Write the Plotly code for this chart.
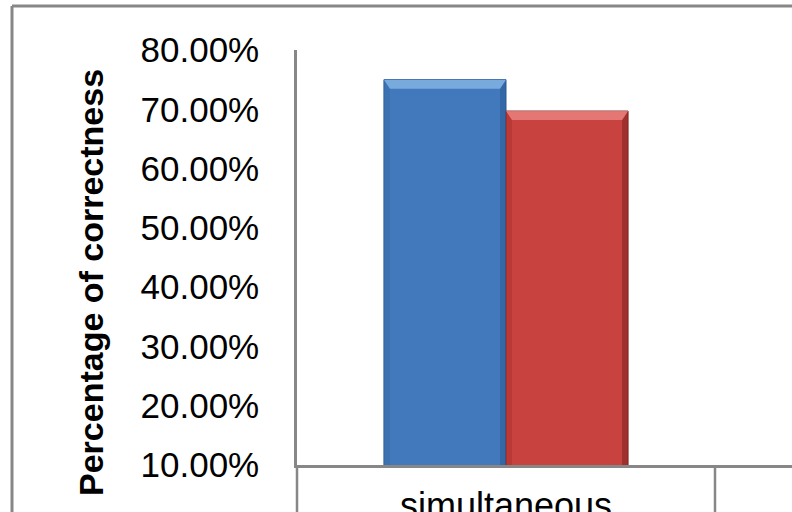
import plotly.graph_objects as go

# Data
categories = ["simultaneous"]
series_names = ["Series 1", "Series 2"]
series_values = [[0.75], [0.697]]
series_colors = ["#4279BD", "#C8423F"]
edge_dark = ["#2A5A94", "#7E2220"]
edge_mid = ["#3569A8", "#A8302E"]
top_light = ["#86B6E6", "#EB8482"]
y_ticks = [0.1, 0.2, 0.3, 0.4, 0.5, 0.6, 0.7, 0.8]

W, H = 792, 512
# plot area edges in page pixels
PL, PR, PT, PB = 297, 792, 50, 465
plot_w = PR - PL
plot_h = PB - PT
cat_px = 418  # pixel width of one category slot
x_range = [-0.5, -0.5 + plot_w / cat_px]
y_range = [0.1, 0.8]


def px_x(p):
    return p / W


def px_y(p):
    return 1 - p / H


bargap = 0.416
bar_w = (1 - bargap) / len(series_values)

fig = go.Figure()
for name, vals, col, dark in zip(series_names, series_values, series_colors, edge_dark):
    fig.add_trace(go.Bar(
        x=categories, y=vals, name=name,
        marker=dict(color=col, line=dict(color=dark, width=1)),
    ))

# Bevel highlights on each bar, placed from the bar's value
ux = 1 / cat_px
uy = (y_range[1] - y_range[0]) / plot_h
shapes = []
for ci, _ in enumerate(categories):
    for si, vals in enumerate(series_values):
        v = vals[ci]
        x0 = ci - (1 - bargap) / 2 + si * bar_w
        x1 = x0 + bar_w
        y0 = y_range[0]
        bev_x = 6 * ux
        bev_y = 9 * uy
        # left edge band
        shapes.append(dict(type="path", xref="x", yref="y", layer="above",
                           path=f"M {x0},{y0} L {x0},{v} L {x0 + bev_x},{v - bev_y} L {x0 + bev_x},{y0} Z",
                           fillcolor=edge_mid[si], line=dict(width=0), opacity=0.5))
        # right edge band
        shapes.append(dict(type="path", xref="x", yref="y", layer="above",
                           path=f"M {x1},{y0} L {x1},{v} L {x1 - bev_x},{v - bev_y} L {x1 - bev_x},{y0} Z",
                           fillcolor=edge_dark[si], line=dict(width=0), opacity=0.55))
        # top highlight band
        shapes.append(dict(type="path", xref="x", yref="y", layer="above",
                           path=f"M {x0},{v} L {x1},{v} L {x1 - bev_x},{v - bev_y} L {x0 + bev_x},{v - bev_y} Z",
                           fillcolor=top_light[si], line=dict(width=0), opacity=0.8))

grey = "#878787"
# outer chart border (left and top edges)
shapes.append(dict(type="line", xref="paper", yref="paper",
                   x0=px_x(12), x1=1, y0=px_y(6), y1=px_y(6),
                   line=dict(color=grey, width=3), layer="above"))
shapes.append(dict(type="line", xref="paper", yref="paper",
                   x0=px_x(12), x1=px_x(12), y0=px_y(6), y1=0,
                   line=dict(color=grey, width=3), layer="above"))
# category table cell borders below the axis
shapes.append(dict(type="line", xref="paper", yref="paper",
                   x0=px_x(PL), x1=px_x(PL), y0=px_y(PB), y1=0,
                   line=dict(color=grey, width=2.5)))
for ci in range(len(categories) + 1):
    shapes.append(dict(type="line", xref="x", yref="paper",
                       x0=ci + 0.5, x1=ci + 0.5, y0=px_y(PB), y1=0,
                       line=dict(color=grey, width=2.5)))

fig.update_layout(
    width=W, height=H,
    margin=dict(l=0, r=0, t=0, b=0, pad=0, autoexpand=False),
    paper_bgcolor="white", plot_bgcolor="white",
    barmode="group", bargap=bargap, bargroupgap=0,
    showlegend=False,
    font=dict(family="Liberation Sans, Arial, sans-serif", color="black"),
    shapes=shapes,
    xaxis=dict(
        type="category", range=x_range, domain=[px_x(PL), px_x(PR)],
        showgrid=False, zeroline=False,
        showline=True, linecolor=grey, linewidth=2.5, automargin=False,
        ticks="", tickfont=dict(size=36), ticklabelstandoff=7,
    ),
    yaxis=dict(
        range=y_range, domain=[px_y(PB), px_y(PT)],
        tickvals=y_ticks, tickformat=".2%",
        showgrid=False, zeroline=False, automargin=False,
        showline=True, linecolor=grey, linewidth=2.5,
        ticks="", tickfont=dict(size=35), ticklabelstandoff=28,
    ),
    annotations=[dict(
        text="<b>Percentage of correctness</b>", textangle=-90,
        xref="paper", yref="paper", x=px_x(91), y=px_y(283),
        xanchor="center", yanchor="middle", showarrow=False,
        font=dict(size=34, color="black"),
    )],
)

fig.write_html("out.html", config={"displayModeBar": False})
